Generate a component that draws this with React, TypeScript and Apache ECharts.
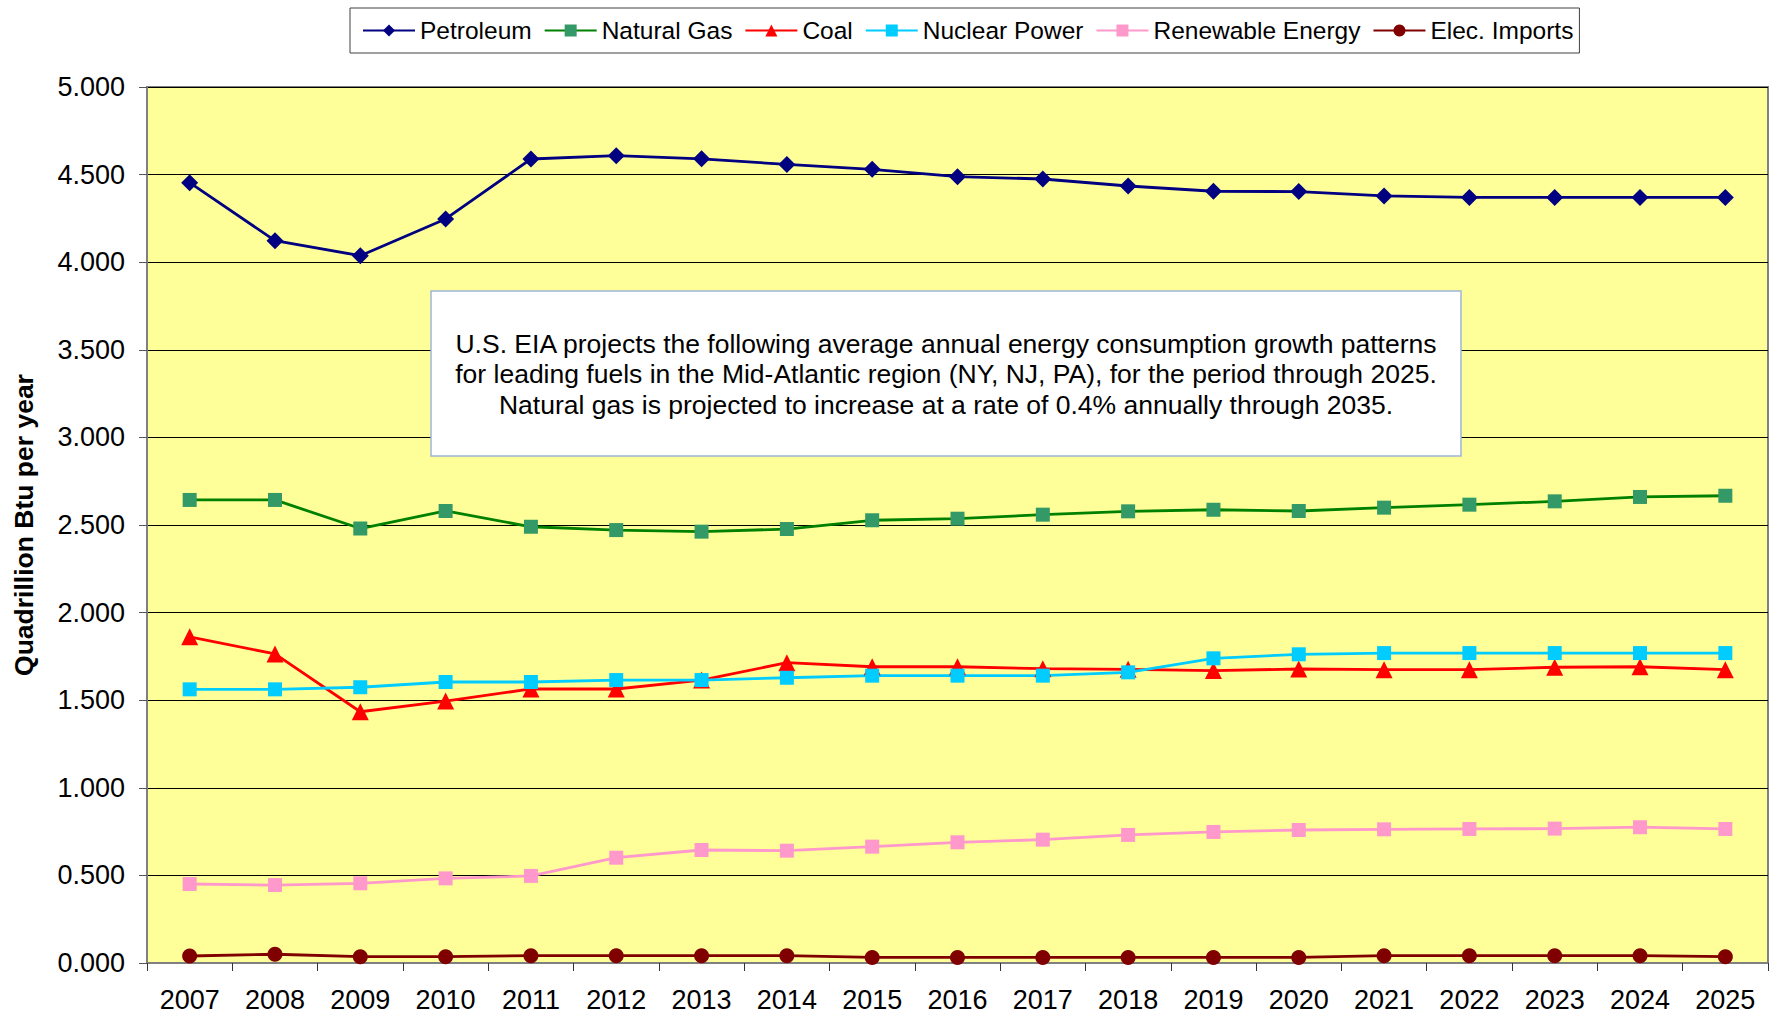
import React, { useEffect, useRef } from "react";
import * as echarts from "echarts";

const years = ["2007","2008","2009","2010","2011","2012","2013","2014","2015","2016","2017","2018","2019","2020","2021","2022","2023","2024","2025"];
const petroleum = [4.454,4.123,4.037,4.247,4.589,4.608,4.590,4.558,4.530,4.488,4.475,4.435,4.405,4.403,4.378,4.370,4.370,4.370,4.370];
const naturalGas = [2.643,2.643,2.480,2.580,2.490,2.471,2.462,2.477,2.527,2.536,2.559,2.578,2.587,2.580,2.599,2.616,2.635,2.660,2.667];
const coal = [1.862,1.764,1.434,1.495,1.564,1.564,1.615,1.714,1.691,1.691,1.680,1.676,1.669,1.678,1.674,1.674,1.688,1.691,1.674];
const nuclear = [1.562,1.562,1.574,1.604,1.604,1.615,1.615,1.628,1.640,1.640,1.640,1.659,1.739,1.762,1.769,1.769,1.769,1.769,1.769];
const renewable = [0.451,0.445,0.455,0.483,0.497,0.601,0.645,0.641,0.664,0.689,0.704,0.731,0.748,0.759,0.763,0.765,0.767,0.775,0.765];
const elecImports = [0.040,0.050,0.036,0.036,0.042,0.042,0.042,0.042,0.032,0.032,0.032,0.032,0.032,0.032,0.042,0.042,0.042,0.042,0.036];

const seriesNames = ["Petroleum","Natural Gas","Coal","Nuclear Power","Renewable Energy","Elec. Imports"];
const noteLines = [
  "U.S. EIA projects the following average annual energy consumption growth patterns",
  "for leading fuels in the Mid-Atlantic region (NY, NJ, PA), for the period through 2025.",
  "Natural gas is projected to increase at a rate of 0.4% annually through 2035.",
];
const yAxisName = "Quadrillion Btu per year";

const FONT = "'Liberation Sans', Arial, sans-serif";

export default function App() {
  const ref = useRef<HTMLDivElement>(null);
  useEffect(() => {
    document.body.style.margin = "0";
    if (!ref.current) return;
    const chart = echarts.init(ref.current, undefined, { renderer: "svg" });
    const mk = (name: string, data: number[], symbol: string, size: number | number[], color: string, lineColor: string) => ({
      name,
      type: "line",
      data,
      symbol,
      symbolSize: size,
      showSymbol: true,
      itemStyle: { color },
      lineStyle: { color: lineColor, width: 2.8 },
      emphasis: { disabled: true },
    });
    chart.setOption({
      animation: false,
      backgroundColor: "#ffffff",
      textStyle: { fontFamily: FONT },
      legend: {
        left: 350,
        top: 8,
        padding: [10, 6, 10, 12],
        itemWidth: 52,
        itemHeight: 15,
        itemGap: 12,
        borderColor: "#404040",
        borderWidth: 1,
        backgroundColor: "#ffffff",
        textStyle: { fontSize: 24.5, color: "#000", fontFamily: FONT },
        data: seriesNames,
      },
      grid: {
        left: 147,
        right: 10,
        top: 87,
        bottom: 53,
        show: true,
        backgroundColor: "#FFFF99",
        borderColor: "#808080",
        borderWidth: 2,
      },
      xAxis: {
        type: "category",
        data: years,
        boundaryGap: true,
        axisLine: { lineStyle: { color: "#808080", width: 2 } },
        axisTick: { show: true, interval: 0, length: 8, lineStyle: { color: "#333", width: 1 } },
        axisLabel: { interval: 0, fontSize: 27, color: "#000", margin: 23, fontFamily: FONT },
        splitLine: { show: false },
      },
      yAxis: {
        type: "value",
        min: 0,
        max: 5,
        interval: 0.5,
        name: yAxisName,
        nameLocation: "middle",
        nameGap: 110,
        nameTextStyle: { fontSize: 26.5, fontWeight: "bold", color: "#000", fontFamily: FONT },
        axisLine: { show: true, lineStyle: { color: "#808080", width: 2 } },
        axisTick: { show: true, length: 8, lineStyle: { color: "#555", width: 1 } },
        axisLabel: { fontSize: 27, color: "#000", margin: 22, fontFamily: FONT, formatter: (v: number) => v.toFixed(3) },
        splitLine: { show: true, lineStyle: { color: "#000", width: 1 } },
      },
      graphic: [
        {
          type: "rect",
          shape: { x: 431, y: 291, width: 1030, height: 165 },
          style: { fill: "#ffffff", stroke: "#9DB5D8", lineWidth: 1.5 },
          z: 100,
        },
        {
          type: "text",
          x: 946,
          y: 374,
          z: 101,
          style: {
            text: noteLines.join("\n"),
            fill: "#000",
            font: `26.5px ${FONT}`,
            align: "center",
            verticalAlign: "middle",
            lineHeight: 30.5,
          },
        },
      ],
      series: [
        mk(seriesNames[0], petroleum, "diamond", 17, "#000080", "#000080"),
        mk(seriesNames[1], naturalGas, "rect", 14, "#339966", "#008000"),
        mk(seriesNames[2], coal, "triangle", 17, "#FF0000", "#FF0000"),
        mk(seriesNames[3], nuclear, "rect", 14, "#00CCFF", "#00CCFF"),
        mk(seriesNames[4], renewable, "rect", 14, "#FF99CC", "#FF99CC"),
        mk(seriesNames[5], elecImports, "circle", 15, "#800000", "#800000"),
      ],
    });
    return () => chart.dispose();
  }, []);
  return <div ref={ref} style={{ width: 1778, height: 1016 }} />;
}
